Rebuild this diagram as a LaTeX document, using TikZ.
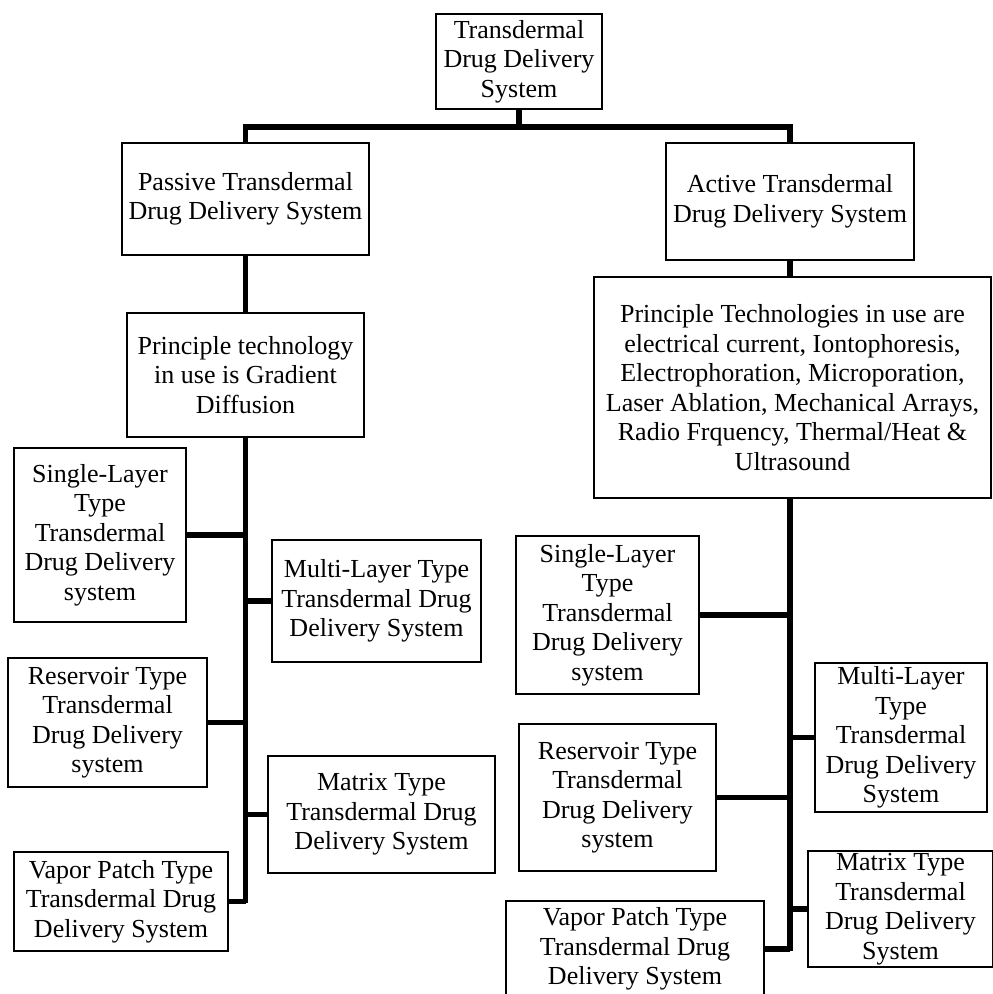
\documentclass[tikz,border=0pt]{standalone}
\usepackage{fontspec}
\setmainfont{Liberation Serif}
\begin{document}
\begin{tikzpicture}[x=1pt,y=-1pt]
\tikzset{
  box/.style={draw, line width=2pt, align=center, inner sep=0pt, fill=white,
    font=\fontsize{26}{29.5}\selectfont},
  conn/.style={line width=5.5pt},
}
\newcommand{\bx}[6]{\node[box, minimum width={#4-#2}, minimum height={#5-#3}] (#1) at ({(#2+#4)/2},{(#3+#5)/2}) {#6};}
\useasboundingbox (0,0) rectangle (993,994);
\clip (0,0) rectangle (993,994);
\fill[white] (0,0) rectangle (993,994);

\bx{top}{436}{14}{602}{109}{Transdermal\\Drug Delivery\\System}
\bx{passive}{122}{143}{369}{255}{Passive Transdermal\\Drug Delivery System}
\bx{active}{666}{143}{914}{260}{Active Transdermal\\Drug Delivery System}
\bx{pprin}{127}{313}{364}{437}{Principle technology\\in use is Gradient\\Diffusion}
\bx{aprin}{594}{277}{991}{498}{Principle Technologies in use are\\electrical current, Iontophoresis,\\Electrophoration, Microporation,\\Laser Ablation, Mechanical Arrays,\\Radio Frquency, Thermal/Heat \&\\Ultrasound}
\bx{lsingle}{14}{448}{186}{622}{Single-Layer\\Type\\Transdermal\\Drug Delivery\\system}
\bx{lmulti}{272}{540}{481}{662}{Multi-Layer Type\\Transdermal Drug\\Delivery System}
\bx{lres}{8}{658}{207}{787}{Reservoir Type\\Transdermal\\Drug Delivery\\system}
\bx{lmatrix}{268}{756}{495}{873}{Matrix Type\\Transdermal Drug\\Delivery System}
\bx{lvapor}{14}{852}{228}{951}{Vapor Patch Type\\Transdermal Drug\\Delivery System}
\bx{rsingle}{516}{536}{699}{694}{Single-Layer\\Type\\Transdermal\\Drug Delivery\\system}
\bx{rmulti}{815}{663}{987}{812}{Multi-Layer\\Type\\Transdermal\\Drug Delivery\\System}
\bx{rres}{519}{724}{716}{871}{Reservoir Type\\Transdermal\\Drug Delivery\\system}
\bx{rmatrix}{808}{851}{993}{967}{Matrix Type\\Transdermal\\Drug Delivery\\System}
\bx{rvapor}{506}{901}{764}{997}{Vapor Patch Type\\Transdermal Drug\\Delivery System}

\coordinate (bus) at (519,127);
\coordinate (lbot) at (245.5,903);
\coordinate (rtop) at (790,498);
\coordinate (rbot) at (790,951);

\draw[conn] (top.south) -- (bus);
\draw[conn] (passive.north) |- (bus) -| (active.north);
\draw[conn] (passive.south) -- (pprin.north);
\draw[conn] (active.south) -- (active.south |- aprin.north);

\draw[conn] (pprin.south) -- (lbot);
\foreach \n in {lsingle,lres,lvapor} \draw[conn] (\n.east) -- (\n.east -| lbot);
\foreach \n in {lmulti,lmatrix} \draw[conn] (\n.west) -- (\n.west -| lbot);

\draw[conn] (rtop) -- (rbot);
\foreach \n in {rsingle,rres,rvapor} \draw[conn] (\n.east) -- (\n.east -| rbot);
\foreach \n in {rmulti,rmatrix} \draw[conn] (\n.west) -- (\n.west -| rbot);
\end{tikzpicture}
\end{document}
